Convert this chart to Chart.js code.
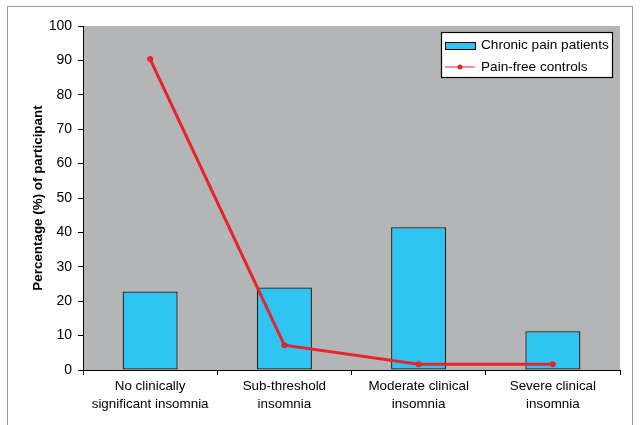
<!DOCTYPE html>
<html>
<head>
<meta charset="utf-8">
<script src="https://cdn.jsdelivr.net/npm/chart.js@4/dist/chart.umd.min.js"></script>
<style>
html,body{margin:0;padding:0;background:#fff;}
#wrap{width:641px;height:425px;position:relative;}
</style>
</head>
<body>
<div id="wrap"><canvas id="c" width="641" height="425"></canvas></div>
<script>
const categories = [
  ['No clinically', 'significant insomnia'],
  ['Sub-threshold', 'insomnia'],
  ['Moderate clinical', 'insomnia'],
  ['Severe clinical', 'insomnia']
];
const chronicPain = [22.8, 24.0, 41.5, 11.3];
const painFree = [90.4, 7.2, 1.7, 1.7];
const yTicks = [0, 10, 20, 30, 40, 50, 60, 70, 80, 90, 100];
const seriesNames = ['Chronic pain patients', 'Pain-free controls'];

const BAR = '#2fc4f2', RED = '#e8232a', BG = '#b3b5b7';
const FONT = '"Liberation Sans", Arial, sans-serif';

const decor = {
  id: 'decor',
  beforeDraw(chart) {
    const {ctx, chartArea: a} = chart;
    ctx.save();
    ctx.strokeStyle = '#9a9a9a';
    ctx.lineWidth = 1;
    ctx.strokeRect(7.5, 6.5, 625, 440);
    ctx.fillStyle = BG;
    ctx.fillRect(a.left, a.top, a.right - a.left, a.bottom - a.top);
    ctx.restore();
  },
  afterDraw(chart) {
    const {ctx} = chart;
    ctx.save();
    ctx.fillStyle = '#fff';
    ctx.fillRect(441, 32, 171, 45);
    ctx.strokeStyle = '#000';
    ctx.lineWidth = 1.2;
    ctx.strokeRect(441.5, 32.5, 171, 45);
    ctx.fillStyle = BAR;
    ctx.fillRect(445, 42, 30, 7);
    ctx.strokeStyle = '#000';
    ctx.lineWidth = 1;
    ctx.strokeRect(445.5, 42.5, 30, 7);
    ctx.strokeStyle = RED;
    ctx.lineWidth = 1;
    ctx.beginPath(); ctx.moveTo(445, 67); ctx.lineTo(475, 67); ctx.stroke();
    ctx.fillStyle = RED;
    ctx.beginPath(); ctx.arc(460, 67, 2.5, 0, Math.PI * 2); ctx.fill();
    ctx.fillStyle = '#000';
    ctx.font = '13.6px ' + FONT;
    ctx.textBaseline = 'middle';
    ctx.textAlign = 'left';
    ctx.fillText(seriesNames[0], 481, 45.5);
    ctx.fillText(seriesNames[1], 481, 67.5);
    ctx.restore();
  }
};

new Chart(document.getElementById('c'), {
  data: {
    labels: categories,
    datasets: [
      {
        type: 'line',
        label: seriesNames[1],
        data: painFree,
        borderColor: RED,
        backgroundColor: RED,
        borderWidth: 3,
        pointRadius: 3,
        pointBackgroundColor: RED,
        pointBorderWidth: 0,
        tension: 0,
        order: 0
      },
      {
        type: 'bar',
        label: seriesNames[0],
        data: chronicPain,
        backgroundColor: BAR,
        borderColor: '#1a1a1a',
        borderWidth: 1.3,
        borderSkipped: false,
        categoryPercentage: 0.41,
        barPercentage: 1,
        order: 1
      }
    ]
  },
  options: {
    responsive: false,
    animation: false,
    layout: {padding: {left: 30, right: 21, top: 26, bottom: 0}},
    plugins: {legend: {display: false}, tooltip: {enabled: false}},
    scales: {
      x: {
        offset: true,
        grid: {display: true, offset: true, drawOnChartArea: false, color: '#000', tickLength: 5, lineWidth: 1},
        border: {display: true, color: '#000', width: 1},
        ticks: {color: '#000', font: {family: FONT, size: 13.4, lineHeight: 1.35}, padding: 2, maxRotation: 0, autoSkip: false},
        afterFit(s) { s.height = 55; }
      },
      y: {
        min: 0, max: 100,
        afterBuildTicks(s) { s.ticks = yTicks.map(v => ({value: v})); },
        grid: {display: true, drawOnChartArea: false, color: '#000', tickLength: 5, lineWidth: 1},
        border: {display: true, color: '#000', width: 1},
        ticks: {color: '#000', font: {family: FONT, size: 14}, padding: 6},
        title: {display: true, text: 'Percentage (%) of participant', color: '#000', font: {family: FONT, size: 13.4, weight: 'bold'}, padding: {top: 0, bottom: 8}},
        afterFit(s) { s.width = 53; }
      }
    }
  },
  plugins: [decor]
});
</script>
</body>
</html>
